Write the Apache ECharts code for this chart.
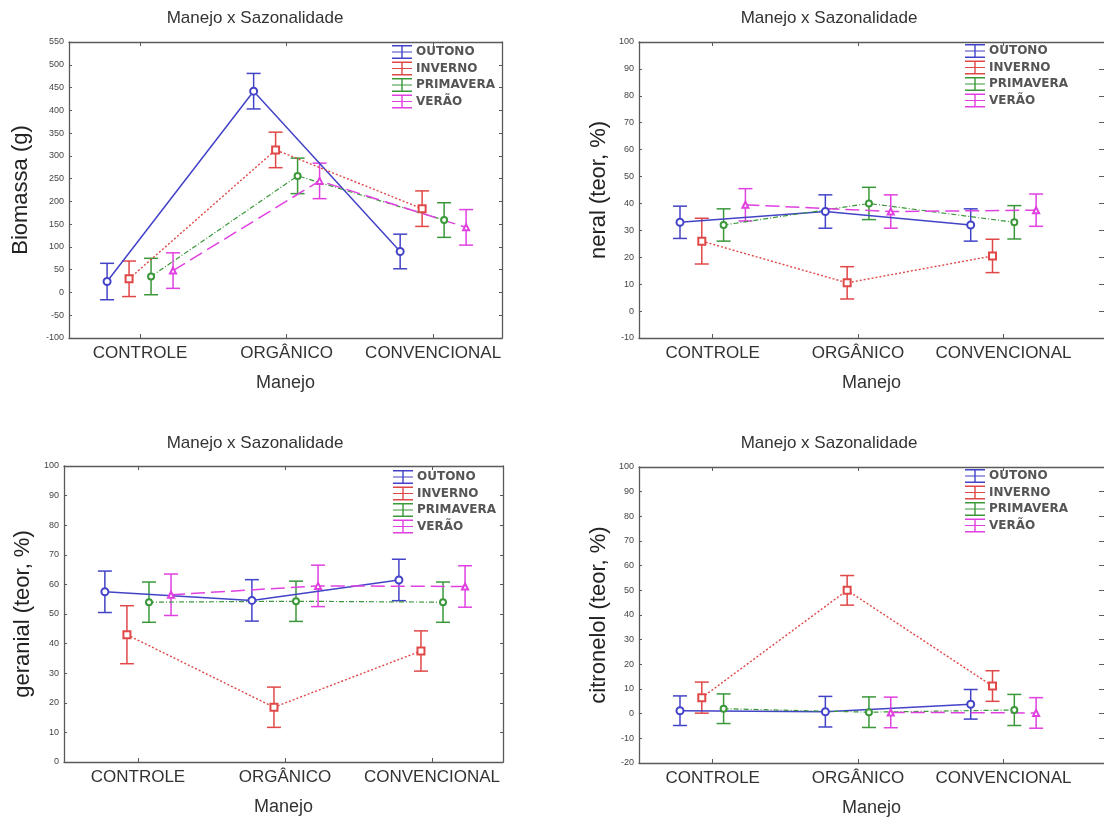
<!DOCTYPE html>
<html>
<head>
<meta charset="utf-8">
<script src="https://cdn.jsdelivr.net/npm/echarts@6/dist/echarts.min.js"></script>
<style>html,body{margin:0;padding:0;background:#fff;}#c{width:1104px;height:818px;}</style>
</head>
<body>
<div id="c"></div>
<script>
// ---- data ----
const categories = ['CONTROLE', 'ORGÂNICO', 'CONVENCIONAL'];
const seasons = ['OUTONO', 'INVERNO', 'PRIMAVERA', 'VERÃO'];
const chartTitle = 'Manejo x Sazonalidade';
const xName = 'Manejo';

// means per season (rows: OUTONO, INVERNO, PRIMAVERA, VERÃO), columns: categories
const biomassaMeans = [[24, 442, 90], [30, 313, 184], [35, 256, 159], [48, 245, 143]];
const biomassaErrors = [[40, 39, 38], [39, 39, 39], [40, 39, 38], [39, 39, 39]];

const neralMeans = [[33, 37, 32], [26, 10.5, 20.5], [32, 40, 33], [39.5, 37, 37.5]];
const neralErrors = [[6, 6.2, 6], [8.5, 6, 6.2], [6, 6, 6.2], [6, 6.2, 6]];

const geranialMeans = [[57.5, 54.6, 61.5], [43, 18.5, 37.5], [54, 54.3, 54], [56.5, 59.5, 59.3]];
const geranialErrors = [[7, 7, 7], [9.8, 6.8, 6.8], [6.8, 6.8, 6.8], [7, 7, 7]];

const citronelolMeans = [[1.2, 0.8, 3.8], [6.5, 50, 11.2], [2, 0.6, 1.5], [null, 0.5, 0.3]];
const citronelolErrors = [[6, 6.2, 6], [6.3, 6, 6.2], [6, 6.2, 6.3], [null, 6.2, 6.2]];

const yNames = ['Biomassa (g)', 'neral (teor, %)', 'geranial (teor, %)', 'citronelol (teor, %)'];
const yMins = [-100, -10, 0, -20];
const yMaxs = [550, 100, 100, 100];
const yIntervals = [50, 10, 10, 10];

// ---- styles / layout ----
const colors = ['#4343c8', '#e04848', '#3a983a', '#e040e0'];
const lineTypes = ['solid', [2, 2], [5, 2, 1, 2], [14, 6]];
const lineWidths = [1.5, 1.4, 1.2, 1.5];
const symbols = ['emptyCircle', 'emptyRect', 'emptyCircle', 'emptyTriangle'];
const symbolSizes = [7, 7, 6, 6];
const DODGE = 0.15;
const CAP = 14;
const AXIS_COLOR = '#5a5a5a';
const TEXT = '#333';
const FONT = 'Liberation Sans';
const ICON = 'path://M0,0H20V1.4H0Z M9.3,0H10.7V14H9.3Z M0,12.6H20V14H0Z M0,6.4H20V7.6H0Z';

const layouts = [
  { grid: { left: 69, top: 42, width: 433, height: 296 }, xr: [-0.485, 2.47], nameGap: 37, title: [255, 18], legend: [392, 45], rightLine: true },
  { grid: { left: 639, top: 42, width: 467, height: 296 }, xr: [-0.507, 2.692], nameGap: 29, title: [829, 18], legend: [965, 44], rightLine: false },
  { grid: { left: 64, top: 466, width: 439, height: 296 }, xr: [-0.503, 2.483], nameGap: 30, title: [255, 443], legend: [393, 470], rightLine: true },
  { grid: { left: 639, top: 467, width: 467, height: 296 }, xr: [-0.507, 2.692], nameGap: 29, title: [829, 443], legend: [965, 469], rightLine: false }
];
const panelMeans = [biomassaMeans, neralMeans, geranialMeans, citronelolMeans];
const panelErrors = [biomassaErrors, neralErrors, geranialErrors, citronelolErrors];

const option = { animation: false, backgroundColor: '#fff', grid: [], xAxis: [], yAxis: [], series: [], legend: [], graphic: [] };

layouts.forEach((L, p) => {
  option.grid.push(Object.assign({ show: false, containLabel: false }, L.grid));
  const axLine = { show: true, onZero: false, lineStyle: { color: AXIS_COLOR, width: 1.3 } };
  // bottom x
  option.xAxis.push({
    type: 'value', gridIndex: p, min: L.xr[0], max: L.xr[1], position: 'bottom',
    axisLine: axLine, splitLine: { show: false },
    axisTick: { show: true, inside: true, length: 4, customValues: [0, 1, 2], lineStyle: { color: AXIS_COLOR } },
    axisLabel: { customValues: [0, 1, 2], formatter: v => categories[Math.round(v)], fontSize: 17, color: TEXT, fontFamily: FONT, margin: 7 },
    name: xName, nameLocation: 'middle', nameGap: 36, nameTextStyle: { fontSize: 18, color: TEXT, fontFamily: FONT }
  });
  // top x
  option.xAxis.push({
    type: 'value', gridIndex: p, min: L.xr[0], max: L.xr[1], position: 'top',
    axisLine: axLine, splitLine: { show: false },
    axisTick: { show: true, inside: true, length: 4, customValues: [0, 1, 2], lineStyle: { color: AXIS_COLOR } },
    axisLabel: { show: false }
  });
  option.yAxis.push({
    type: 'value', gridIndex: p, min: yMins[p], max: yMaxs[p], interval: yIntervals[p], position: 'left',
    axisLine: axLine, splitLine: { show: false },
    axisTick: { show: true, inside: true, length: 3, lineStyle: { color: AXIS_COLOR } },
    axisLabel: { fontSize: 9, color: '#444', fontFamily: FONT, margin: 5 },
    name: yNames[p], nameLocation: 'middle', nameGap: L.nameGap, nameRotate: 90,
    nameTextStyle: { fontSize: 22, color: '#222', fontFamily: FONT }
  });
  option.yAxis.push({
    type: 'value', gridIndex: p, min: yMins[p], max: yMaxs[p], interval: yIntervals[p], position: 'right',
    axisLine: Object.assign({}, axLine, { show: L.rightLine }), splitLine: { show: false },
    axisTick: { show: true, inside: true, length: L.rightLine ? 3 : 5, lineStyle: { color: AXIS_COLOR } },
    axisLabel: { show: false }
  });

  const means = panelMeans[p], errs = panelErrors[p];
  seasons.forEach((s, k) => {
    const pts = [], bars = [];
    categories.forEach((c, i) => {
      const x = i + (k - 1.5) * DODGE;
      const m = means[k][i];
      pts.push([x, m]);
      if (m !== null) bars.push([x, m - errs[k][i], m + errs[k][i]]);
    });
    option.series.push({
      type: 'custom', name: s, xAxisIndex: p * 2, yAxisIndex: p * 2, z: 2,
      itemStyle: { color: colors[k] },
      encode: { x: 0, y: [1, 2] },
      data: bars,
      renderItem: (params, api) => {
        const x = api.value(0);
        const a = api.coord([x, api.value(2)]);
        const b = api.coord([x, api.value(1)]);
        const st = { stroke: colors[k], lineWidth: 1.5 };
        return {
          type: 'group', children: [
            { type: 'line', shape: { x1: a[0], y1: a[1], x2: b[0], y2: b[1] }, style: st },
            { type: 'line', shape: { x1: a[0] - CAP / 2, y1: a[1], x2: a[0] + CAP / 2, y2: a[1] }, style: st },
            { type: 'line', shape: { x1: b[0] - CAP / 2, y1: b[1], x2: b[0] + CAP / 2, y2: b[1] }, style: st }
          ]
        };
      }
    });
    option.series.push({
      type: 'line', name: s, xAxisIndex: p * 2, yAxisIndex: p * 2, z: 3,
      data: pts, connectNulls: false,
      symbol: symbols[k], symbolSize: symbolSizes[k],
      itemStyle: { color: colors[k], borderWidth: 1.2 },
      lineStyle: { color: colors[k], width: lineWidths[k], type: lineTypes[k] }
    });
  });

  option.legend.push({
    data: seasons, left: L.legend[0], top: L.legend[1], orient: 'vertical', padding: 0,
    itemWidth: 20, itemHeight: 14, itemGap: 2.5, icon: ICON, selectedMode: false,
    itemStyle: { borderWidth: 0 },
    textStyle: { fontSize: 12, fontWeight: 'bold', color: '#555', fontFamily: 'DejaVu Sans', padding: [0, 0, 0, -1] }
  });

  option.graphic.push({
    type: 'text', silent: true,
    style: { x: L.title[0], y: L.title[1], text: chartTitle, align: 'center', verticalAlign: 'middle', font: '17px "Liberation Sans"', fill: TEXT }
  });
});

const chart = echarts.init(document.getElementById('c'), null, { renderer: 'canvas' });
chart.setOption(option);
</script>
</body>
</html>
